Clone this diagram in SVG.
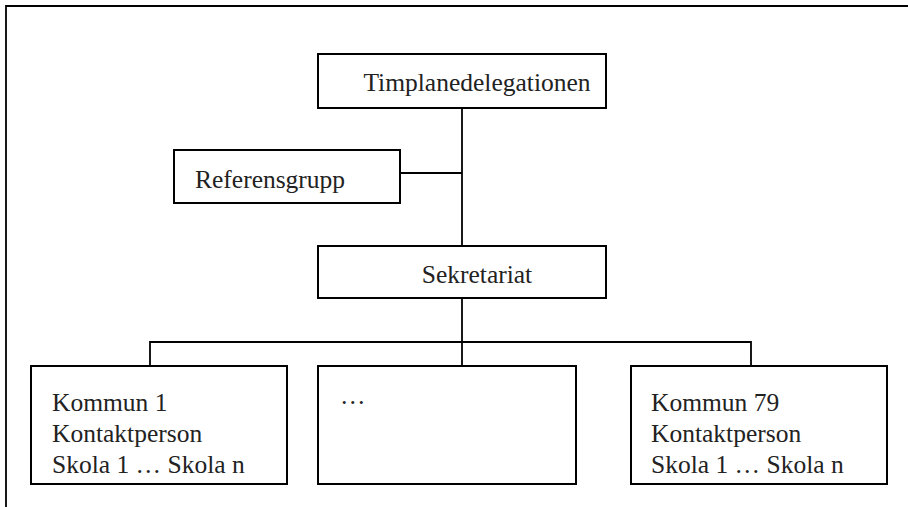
<svg xmlns="http://www.w3.org/2000/svg" width="908" height="507" viewBox="0 0 908 507">
<style>
  .box { fill: #fff; stroke: #000; stroke-width: 2; }
  .ln { fill: none; stroke: #000; stroke-width: 1.8; }
  .t { font-family: "Liberation Serif", "Times New Roman", serif; font-size: 25.5px; fill: #222; }
  .c { text-anchor: middle; }
</style>
<rect width="908" height="507" fill="#fff"/>
<g id="frame">
  <path class="ln" d="M6,507 V6 H908" stroke-width="2.2"/>
</g>
<g id="connectors">
  <path class="ln" d="M462,108 V246"/>
  <path class="ln" d="M400,173 H462"/>
  <path class="ln" d="M462,298 V366"/>
  <path class="ln" d="M150,365 V342 H751 V365"/>
</g>
<g id="timplanedelegationen">
  <rect class="box" x="318" y="54" width="288" height="54"/>
  <text class="t c" x="477" y="91">Timplanedelegationen</text>
</g>
<g id="referensgrupp">
  <rect class="box" x="174" y="150" width="226" height="53"/>
  <text class="t" x="195" y="188">Referensgrupp</text>
</g>
<g id="sekretariat">
  <rect class="box" x="318" y="246" width="288" height="52"/>
  <text class="t c" x="477" y="283">Sekretariat</text>
</g>
<g id="kommun1">
  <rect class="box" x="31" y="366" width="256" height="118"/>
  <text class="t" x="52" y="411">Kommun 1</text>
  <text class="t" x="52" y="442">Kontaktperson</text>
  <text class="t" x="52" y="473">Skola 1 … Skola n</text>
</g>
<g id="kommun-mid">
  <rect class="box" x="318" y="366" width="258" height="118"/>
  <text class="t" x="340" y="404">…</text>
</g>
<g id="kommun79">
  <rect class="box" x="631" y="366" width="256" height="118"/>
  <text class="t" x="651" y="411">Kommun 79</text>
  <text class="t" x="651" y="442">Kontaktperson</text>
  <text class="t" x="651" y="473">Skola 1 … Skola n</text>
</g>
</svg>
